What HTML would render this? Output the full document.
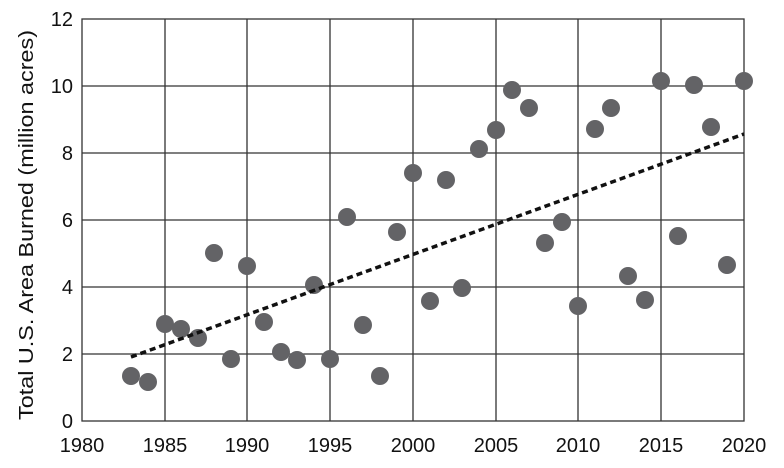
<!DOCTYPE html><html><head><style>body{margin:0;background:#fff}svg{display:block}text{font-family:"Liberation Sans",sans-serif;fill:#111}</style></head><body>
<svg width="784" height="468" viewBox="0 0 784 468">
<g stroke="#333" stroke-width="1.3" fill="none">
<rect x="82" y="19" width="662" height="402"/>
<path d="M165 19V421M247 19V421M330 19V421M413 19V421M496 19V421M578 19V421M661 19V421M82 86H744M82 153H744M82 220H744M82 287H744M82 354H744"/>
</g>
<g fill="#636366">
<circle cx="131" cy="376" r="9"/><circle cx="148" cy="382" r="9"/><circle cx="165" cy="324" r="9"/><circle cx="181" cy="329" r="9"/><circle cx="198" cy="338" r="9"/><circle cx="214" cy="253" r="9"/><circle cx="231" cy="359" r="9"/><circle cx="247" cy="266" r="9"/><circle cx="264" cy="322" r="9"/><circle cx="281" cy="352" r="9"/><circle cx="297" cy="360" r="9"/><circle cx="314" cy="285" r="9"/><circle cx="330" cy="359" r="9"/><circle cx="347" cy="217" r="9"/><circle cx="363" cy="325" r="9"/><circle cx="380" cy="376" r="9"/><circle cx="397" cy="232" r="9"/><circle cx="413" cy="173" r="9"/><circle cx="430" cy="301" r="9"/><circle cx="446" cy="180" r="9"/><circle cx="462" cy="288" r="9"/><circle cx="479" cy="149" r="9"/><circle cx="496" cy="130" r="9"/><circle cx="512" cy="90" r="9"/><circle cx="529" cy="108" r="9"/><circle cx="545" cy="243" r="9"/><circle cx="562" cy="222" r="9"/><circle cx="578" cy="306" r="9"/><circle cx="595" cy="129" r="9"/><circle cx="611" cy="108" r="9"/><circle cx="628" cy="276" r="9"/><circle cx="645" cy="300" r="9"/><circle cx="661" cy="81" r="9"/><circle cx="678" cy="236" r="9"/><circle cx="694" cy="85" r="9"/><circle cx="711" cy="127" r="9"/><circle cx="727" cy="265" r="9"/><circle cx="744" cy="81" r="9"/>
</g>
<line x1="131" y1="357" x2="744" y2="134" stroke="#111" stroke-width="3.5" stroke-dasharray="6,4"/>
<g font-size="20" text-anchor="end">
<text x="73" y="428">0</text><text x="73" y="361">2</text><text x="73" y="294">4</text><text x="73" y="227">6</text><text x="73" y="160">8</text><text x="73" y="93">10</text><text x="73" y="26">12</text>
</g>
<g font-size="20" text-anchor="middle">
<text x="82" y="452">1980</text><text x="165" y="452">1985</text><text x="247" y="452">1990</text><text x="330" y="452">1995</text><text x="413" y="452">2000</text><text x="496" y="452">2005</text><text x="578" y="452">2010</text><text x="661" y="452">2015</text><text x="744" y="452">2020</text>
</g>
<text font-size="20" text-anchor="middle" transform="translate(33,225) rotate(-90)" textLength="390" lengthAdjust="spacingAndGlyphs">Total U.S. Area Burned (million acres)</text>
</svg></body></html>
